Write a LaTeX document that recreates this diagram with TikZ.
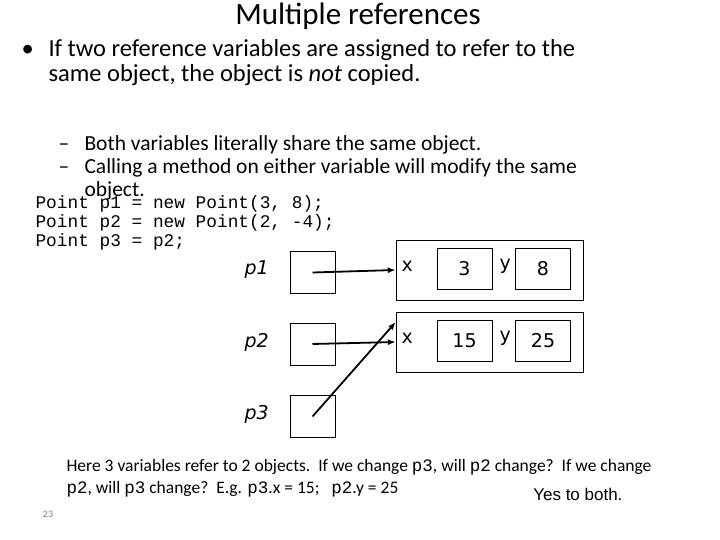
\documentclass[tikz,border=0pt]{standalone}
\usepackage{fontspec}
\setmainfont{Carlito}
\newfontfamily\codefont{Liberation Mono}
\newfontfamily\verdfont{DejaVu Sans}
\newfontfamily\arialfont{Liberation Sans}
\usetikzlibrary{arrows.meta}

\begin{document}
\begin{tikzpicture}[x=1pt, y=-1pt,
    var/.style={draw, minimum width=45pt, minimum height=42pt, inner sep=0pt},
    field/.style={draw, minimum width=55pt, minimum height=41pt, inner sep=0pt, font=\verdfont\fontsize{19}{19}\selectfont},
    obj/.style={draw, thin, minimum width=187pt, minimum height=60pt, inner sep=0pt},
    lbl/.style={font=\verdfont\itshape\fontsize{19}{19}\selectfont, anchor=west},
    ref/.style={-{Latex[length=8pt,width=6pt]}, line width=1.8pt}]
    \useasboundingbox (0,0) rectangle (720,540);

    % slide text
    \node[font=\fontsize{31}{31}\selectfont] (title) at (358,16) {Multiple references};
    \node[anchor=north west, align=left, font=\fontsize{24.5}{25}\selectfont] (b1) at (18,36)
        {\makebox[27pt][l]{•}If two reference variables are assigned to refer to the\\
         \hspace*{27pt}same object, the object is \emph{not} copied.};
    \node[anchor=north west, align=left, font=\fontsize{21.5}{23}\selectfont] (b2) at (55,132)
        {\makebox[26pt][l]{–}Both variables literally share the same object.\\
         \makebox[26pt][l]{–}Calling a method on either variable will modify the same\\
         \hspace*{26pt}object.};
    \node[anchor=north west, align=left, font=\codefont\fontsize{17.8}{19}\selectfont] (code) at (32,192)
        {Point p1 = new Point(3, 8);\\Point p2 = new Point(2, -4);\\Point p3 = p2;};

    % variables
    \node[var] (v1) at (312.5,272.5) {};
    \node[var] (v2) at (312.5,344) {};
    \node[var] (v3) at (312.5,416.5) {};
    \node[lbl] at (241,270) {p1};
    \node[lbl] at (241,342) {p2};
    \node[lbl] at (241,414) {p3};

    % objects
    \node[obj] (o1) at (489.5,270) {};
    \node[obj] (o2) at (489.5,342) {};
    \node[lbl, font=\verdfont\fontsize{19}{19}\selectfont] at (398,266) {x};
    \node[lbl, font=\verdfont\fontsize{19}{19}\selectfont] at (398,338) {x};
    \node[lbl, font=\verdfont\fontsize{19}{19}\selectfont] at (496,266) {y};
    \node[lbl, font=\verdfont\fontsize{19}{19}\selectfont] at (496,338) {y};
    \node[field] (x1) at (464.5,268.5) {3};
    \node[field] (y1) at (543,268.5) {8};
    \node[field] (x2) at (464.5,340.5) {15};
    \node[field] (y2) at (543,340.5) {25};

    % references
    \draw[ref] (v1.center) -- (o1.west);
    \draw[ref] (v2.center) -- (o2.west);
    \draw[ref] (v3.center) -- ([yshift=20pt]o2.west);

    % caption
    \node[anchor=north west, align=left, font=\fontsize{17.5}{22}\selectfont] (note) at (63,456)
        {Here 3 variables refer to 2 objects.\ \ If we change {\codefont p3}, will {\codefont p2} change?\ \ If we change\\
         {\codefont p2}, will {\codefont p3} change?\ \ E.g. {\codefont p3}.x = 15;\ \ \ {\codefont p2}.y = 25};
    \node[anchor=east, font=\arialfont\fontsize{17}{17}\selectfont] (yes) at (626,494) {Yes to both.};
    \node[font=\fontsize{10}{10}\selectfont, text=gray] (page) at (48,514) {23};
\end{tikzpicture}
\end{document}
